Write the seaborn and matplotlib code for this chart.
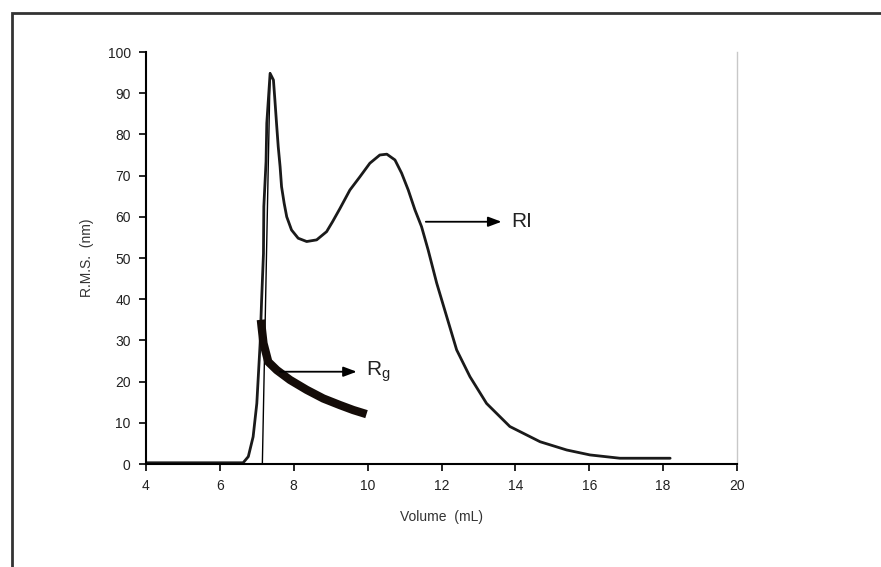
import numpy as np
import pandas as pd
import matplotlib
matplotlib.use("Agg")
import matplotlib.pyplot as plt
from matplotlib.patches import Rectangle
import seaborn as sns

# RI trace (volume mL, value)
ri_x = [4.0, 5.0, 6.0, 6.63, 6.77, 6.90, 7.00, 7.04, 7.09, 7.13, 7.18, 7.19, 7.25, 7.27, 7.36,
        7.45, 7.49, 7.54, 7.58, 7.63, 7.67, 7.74, 7.81, 7.94, 8.12, 8.35, 8.62,
        8.89, 9.05, 9.25, 9.52, 9.79, 10.06, 10.33, 10.52, 10.74, 10.92, 11.10,
        11.28, 11.46, 11.64, 11.87, 12.14, 12.41, 12.77, 13.22, 13.85,
        14.67, 15.39, 16.02, 16.83, 17.5, 18.19]
ri_y = [0.3, 0.3, 0.3, 0.3, 1.8, 6.6, 14.7, 21.2, 29.3, 39.8, 51.1, 62.5, 73.4, 82.7, 94.8,
        93.2, 88.3, 81.9, 77.0, 72.2, 67.3, 63.3, 60.0, 56.8, 54.8, 54.0, 54.4,
        56.4, 58.8, 62.0, 66.5, 69.7, 73.0, 75.0, 75.2, 73.8, 70.6, 66.5,
        61.7, 57.6, 51.9, 43.9, 35.8, 27.7, 21.2, 14.7, 9.1,
        5.4, 3.4, 2.2, 1.4, 1.4, 1.4]

# thin connecting line on the rising edge
edge_x = [7.15, 7.36]
edge_y = [0.0, 95.0]

# Rg trace
rg_x = [7.11, 7.13, 7.18, 7.31, 7.54, 7.90, 8.35, 8.80, 9.25, 9.61, 9.97]
rg_y = [35.0, 33.3, 29.3, 24.8, 22.8, 20.4, 18.0, 15.9, 14.3, 13.1, 12.1]

x_ticks = [4, 6, 8, 10, 12, 14, 16, 18, 20]
y_ticks = [0, 10, 20, 30, 40, 50, 60, 70, 80, 90, 100]

sns.set_style("ticks")
plt.rcParams['font.family'] = ['Liberation Sans', 'DejaVu Sans']

fig = plt.figure(figsize=(8.81, 5.67), dpi=100)
ax = fig.add_axes([146/881, 1-464/567, (737-146)/881, (464-52)/567])

df_ri = pd.DataFrame({"x": ri_x, "y": ri_y})
df_rg = pd.DataFrame({"x": rg_x, "y": rg_y})
df_edge = pd.DataFrame({"x": edge_x, "y": edge_y})

sns.lineplot(data=df_edge, x="x", y="y", ax=ax, color="black", linewidth=1.0,
             sort=False)
sns.lineplot(data=df_ri, x="x", y="y", ax=ax, color="#1a1a1a", linewidth=2.0,
             sort=False)
sns.lineplot(data=df_rg, x="x", y="y", ax=ax, color="#140c08", linewidth=6.0,
             sort=False, solid_capstyle="butt")

ax.set_xlim(4, 20)
ax.set_ylim(0, 100)
ax.set_xticks(x_ticks)
ax.set_yticks(y_ticks)
ax.tick_params(axis="both", direction="out", length=5, width=1.2, colors="black",
               labelsize=10, pad=6)
for lab in ax.get_xticklabels() + ax.get_yticklabels():
    lab.set_color("#222222")

ax.spines["top"].set_visible(False)
ax.spines["right"].set_visible(True)
ax.spines["right"].set_color("#c8c8c8")
ax.spines["right"].set_linewidth(1.0)
ax.spines["left"].set_color("black")
ax.spines["left"].set_linewidth(1.5)
ax.spines["bottom"].set_color("black")
ax.spines["bottom"].set_linewidth(1.5)

ax.set_xlabel("Volume  (mL)", fontsize=10, color="#333333", labelpad=12)
ax.set_ylabel("R.M.S.  (nm)", fontsize=10, color="#333333", labelpad=10)

# annotations
ax.annotate("", xy=(9.78, 22.4), xytext=(7.55, 22.4),
            arrowprops=dict(arrowstyle="-|>,head_length=0.8,head_width=0.3",
                            color="black", lw=1.3))
ax.text(9.95, 22.4, r"R$_\mathregular{g}$", fontsize=15, va="center", ha="left",
        color="#222222")
ax.annotate("", xy=(13.7, 58.8), xytext=(11.5, 58.8),
            arrowprops=dict(arrowstyle="-|>,head_length=0.8,head_width=0.3",
                            color="black", lw=1.3))
ax.text(13.88, 58.8, "RI", fontsize=15, va="center", ha="left", color="#222222")

# outer frame (left and top edges visible)
fig.patches.append(Rectangle((12/881, -0.2), 1.5, 1.2 - 13/567,
                             transform=fig.transFigure, fill=False,
                             edgecolor="#333333", linewidth=2.0))

fig.savefig("out.png", dpi=100)
